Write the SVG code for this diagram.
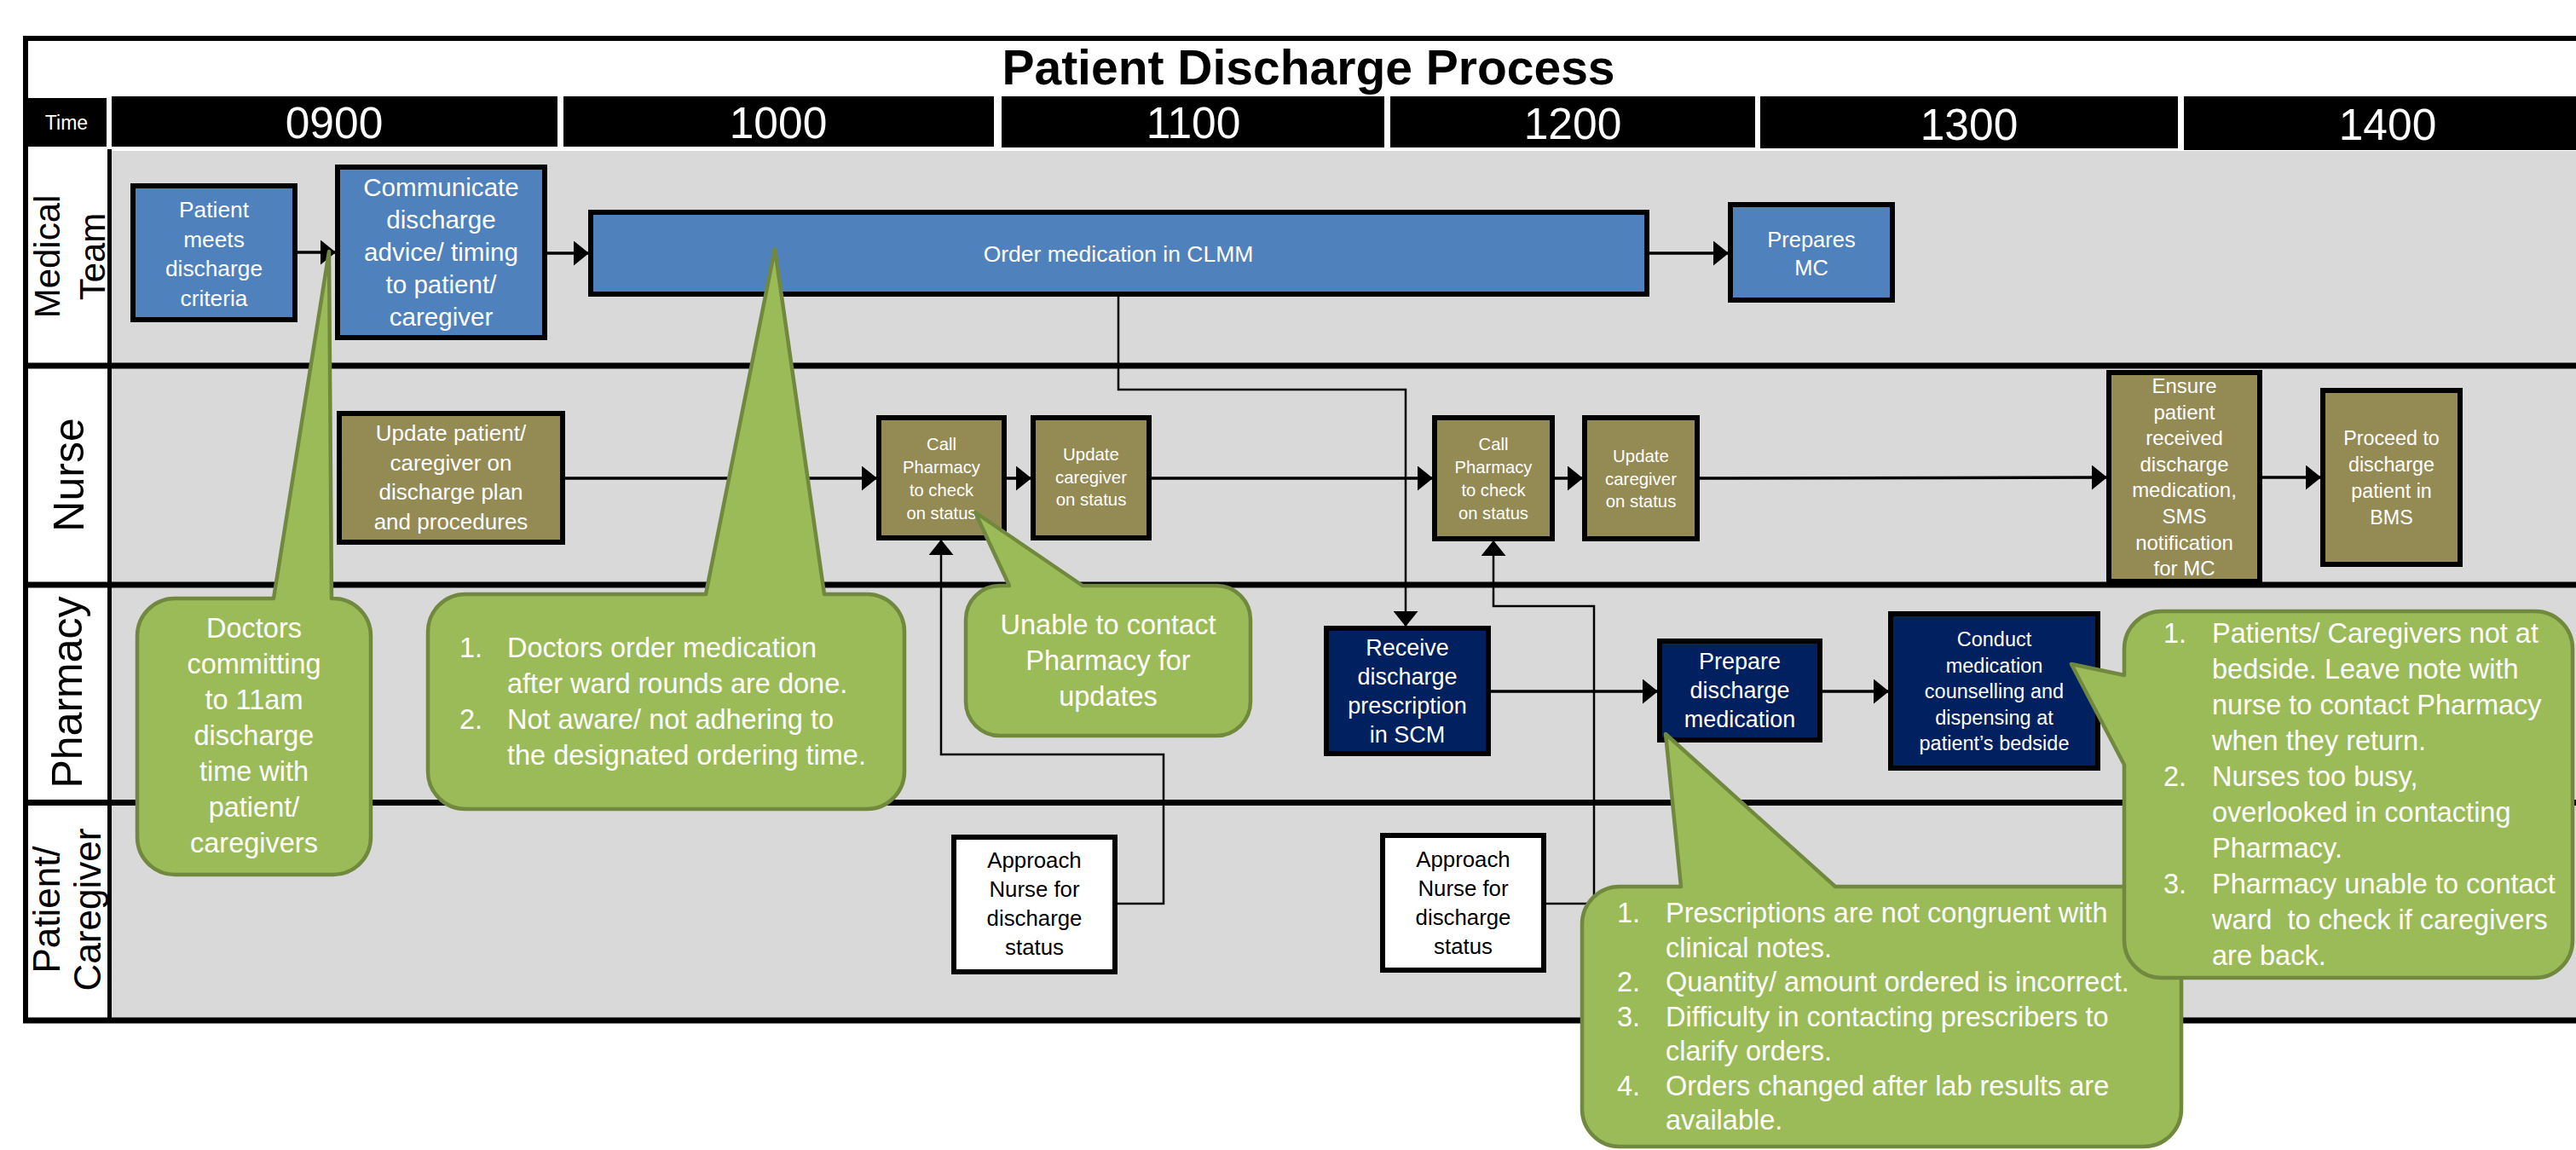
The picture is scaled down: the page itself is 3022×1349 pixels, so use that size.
<svg xmlns="http://www.w3.org/2000/svg" width="3022" height="1349" viewBox="0 0 3022 1349">
<defs>
<style>
text{font-family:"Liberation Sans",Arial,sans-serif}
.title{font-size:57px;font-weight:bold;fill:#000;text-anchor:middle}
.hour{fill:#fff;text-anchor:middle;font-size:51.5px}
.hbox{fill:#000}
.lane{fill:#d9d9d9}
.sep{stroke:#000;stroke-width:7;fill:none}
.frm{stroke:#000;stroke-width:6;fill:none}
.lbl{fill:#000;text-anchor:middle}
.box{stroke:#000;stroke-width:6}
.med{fill:#4f81bd}
.nur{fill:#948a54}
.pha{fill:#002060}
.pat{fill:#fff}
.wt{fill:#fff;text-anchor:middle}
.bt{fill:#000;text-anchor:middle}
.flow{stroke:#000;stroke-width:3.5;fill:none;marker-end:url(#arr)}
.link{stroke:#000;stroke-width:2.5;fill:none;marker-end:url(#arr)}
.call{fill:#9bbb59;stroke:#71893f;stroke-width:4.5;stroke-linejoin:round}
.ct{fill:#fff;font-size:32.5px}
.cc{fill:#fff;font-size:32.5px;text-anchor:middle}
</style>
<marker id="arr" markerUnits="userSpaceOnUse" markerWidth="18" markerHeight="29" viewBox="0 0 18 29" refX="17" refY="14.5" orient="auto">
<path d="M0,0 L18,14.5 L0,29 Z" fill="#000"/>
</marker>
</defs>

<rect x="0" y="0" width="3022" height="1349" fill="#fff"/>

<!-- table frame, time row and swimlanes -->
<g id="frame">
<text class="title" x="1535" y="99">Patient Discharge Process</text>
<rect class="hbox" x="32" y="115" width="93" height="57"/>
<text class="hour" x="78" y="152" style="font-size:23px">Time</text>
<rect class="hbox" x="131" y="113" width="523" height="59"/>
<text class="hour" x="392" y="162">0900</text>
<rect class="hbox" x="661" y="113" width="505" height="59"/>
<text class="hour" x="913" y="162">1000</text>
<rect class="hbox" x="1175" y="113" width="449" height="60"/>
<text class="hour" x="1400" y="162">1100</text>
<rect class="hbox" x="1631" y="113" width="428" height="60"/>
<text class="hour" x="1845" y="163">1200</text>
<rect class="hbox" x="2065" y="113" width="490" height="61"/>
<text class="hour" x="2310" y="164">1300</text>
<rect class="hbox" x="2562" y="113" width="478" height="63"/>
<text class="hour" x="2801" y="164">1400</text>

<rect class="lane" x="131" y="177" width="2891" height="1017"/>
<line class="frm" x1="27" y1="45" x2="3022" y2="45"/>
<line class="frm" x1="30" y1="42" x2="30" y2="1200"/>
<line x1="128.5" y1="175" x2="128.5" y2="1200" stroke="#000" stroke-width="5"/>
<line class="sep" x1="27" y1="429" x2="3022" y2="429"/>
<line class="sep" x1="27" y1="686" x2="3022" y2="686"/>
<line class="sep" x1="27" y1="941.5" x2="3022" y2="941.5"/>
<line class="sep" x1="27" y1="1197" x2="3022" y2="1197"/>

<g transform="rotate(-90)">
<text class="lbl" x="-301" y="70" font-size="42">Medical</text>
<text class="lbl" x="-301" y="123" font-size="42">Team</text>
<text class="lbl" x="-557" y="98" font-size="50">Nurse</text>
<text class="lbl" x="-812" y="96" font-size="50">Pharmacy</text>
<text class="lbl" x="-1067" y="70" font-size="44">Patient/</text>
<text class="lbl" x="-1067" y="118" font-size="44">Caregiver</text>
</g>
</g>

<!-- Medical Team lane -->
<g id="n-meets-criteria">
<rect class="box med" x="156" y="218" width="190" height="157"/>
<text class="wt" font-size="26.3"><tspan x="251" y="255">Patient</tspan><tspan x="251" y="289.5">meets</tspan><tspan x="251" y="324">discharge</tspan><tspan x="251" y="358.5">criteria</tspan></text>
</g>
<g id="n-communicate">
<rect class="box med" x="396" y="196" width="243" height="200"/>
<text class="wt" font-size="29.6"><tspan x="517.5" y="230">Communicate</tspan><tspan x="517.5" y="268">discharge</tspan><tspan x="517.5" y="306">advice/ timing</tspan><tspan x="517.5" y="344">to patient/</tspan><tspan x="517.5" y="382">caregiver</tspan></text>
</g>
<g id="n-order-clmm">
<rect class="box med" x="693" y="249" width="1239" height="96"/>
<text class="wt" font-size="26.5" x="1312" y="307">Order medication in CLMM</text>
</g>
<g id="n-prepares-mc">
<rect class="box med" x="2030" y="240" width="190" height="112"/>
<text class="wt" font-size="25.5"><tspan x="2125" y="290">Prepares</tspan><tspan x="2125" y="323">MC</tspan></text>
</g>

<!-- Nurse lane -->
<g id="n-update-plan">
<rect class="box nur" x="398" y="485" width="262" height="151"/>
<text class="wt" font-size="26"><tspan x="529" y="517">Update patient/</tspan><tspan x="529" y="551.5">caregiver on</tspan><tspan x="529" y="586">discharge plan</tspan><tspan x="529" y="620.5">and procedures</tspan></text>
</g>
<g id="n-call-pharmacy-1">
<rect class="box nur" x="1031" y="490" width="147" height="141"/>
<text class="wt" font-size="20.2"><tspan x="1104.5" y="528">Call</tspan><tspan x="1104.5" y="555">Pharmacy</tspan><tspan x="1104.5" y="582">to check</tspan><tspan x="1104.5" y="609">on status</tspan></text>
</g>
<g id="n-update-caregiver-1">
<rect class="box nur" x="1212" y="490" width="136" height="141"/>
<text class="wt" font-size="20.4"><tspan x="1280" y="540">Update</tspan><tspan x="1280" y="566.5">caregiver</tspan><tspan x="1280" y="593">on status</tspan></text>
</g>
<g id="n-call-pharmacy-2">
<rect class="box nur" x="1683" y="490" width="138" height="142"/>
<text class="wt" font-size="20.2"><tspan x="1752" y="528">Call</tspan><tspan x="1752" y="555">Pharmacy</tspan><tspan x="1752" y="582">to check</tspan><tspan x="1752" y="609">on status</tspan></text>
</g>
<g id="n-update-caregiver-2">
<rect class="box nur" x="1859" y="490" width="132" height="142"/>
<text class="wt" font-size="20.4"><tspan x="1925" y="542">Update</tspan><tspan x="1925" y="568.5">caregiver</tspan><tspan x="1925" y="595">on status</tspan></text>
</g>
<g id="n-ensure-received">
<rect class="box nur" x="2474" y="437" width="177" height="245"/>
<text class="wt" font-size="24"><tspan x="2562.5" y="461">Ensure</tspan><tspan x="2562.5" y="491.6">patient</tspan><tspan x="2562.5" y="522.2">received</tspan><tspan x="2562.5" y="552.8">discharge</tspan><tspan x="2562.5" y="583.4">medication,</tspan><tspan x="2562.5" y="614">SMS</tspan><tspan x="2562.5" y="644.6">notification</tspan><tspan x="2562.5" y="675.2">for MC</tspan></text>
</g>
<g id="n-proceed-bms">
<rect class="box nur" x="2725" y="458" width="161" height="204"/>
<text class="wt" font-size="23.3"><tspan x="2805.5" y="522">Proceed to</tspan><tspan x="2805.5" y="553">discharge</tspan><tspan x="2805.5" y="584">patient in</tspan><tspan x="2805.5" y="614.5">BMS</tspan></text>
</g>

<!-- Pharmacy lane -->
<g id="n-receive-scm">
<rect class="box pha" x="1556" y="737" width="190" height="147"/>
<text class="wt" font-size="27"><tspan x="1651" y="769">Receive</tspan><tspan x="1651" y="803">discharge</tspan><tspan x="1651" y="837">prescription</tspan><tspan x="1651" y="871">in SCM</tspan></text>
</g>
<g id="n-prepare-medication">
<rect class="box pha" x="1947" y="752" width="188" height="116"/>
<text class="wt" font-size="27"><tspan x="2041" y="785">Prepare</tspan><tspan x="2041" y="819">discharge</tspan><tspan x="2041" y="853">medication</tspan></text>
</g>
<g id="n-conduct-counselling">
<rect class="box pha" x="2218" y="720" width="243" height="181"/>
<text class="wt" font-size="23.5"><tspan x="2339.5" y="758">Conduct</tspan><tspan x="2339.5" y="788.5">medication</tspan><tspan x="2339.5" y="819">counselling and</tspan><tspan x="2339.5" y="849.5">dispensing at</tspan><tspan x="2339.5" y="880">patient’s bedside</tspan></text>
</g>

<!-- Patient/Caregiver lane -->
<g id="n-approach-nurse-1">
<rect class="box pat" x="1119" y="982" width="189" height="158"/>
<text class="bt" font-size="25.8"><tspan x="1213.5" y="1018">Approach</tspan><tspan x="1213.5" y="1052">Nurse for</tspan><tspan x="1213.5" y="1086">discharge</tspan><tspan x="1213.5" y="1120">status</tspan></text>
</g>
<g id="n-approach-nurse-2">
<rect class="box pat" x="1622" y="980" width="189" height="158"/>
<text class="bt" font-size="25.8"><tspan x="1716.5" y="1017">Approach</tspan><tspan x="1716.5" y="1051">Nurse for</tspan><tspan x="1716.5" y="1085">discharge</tspan><tspan x="1716.5" y="1119">status</tspan></text>
</g>

<!-- connectors -->
<g id="connectors">
<path class="flow" d="M349,296 H393"/>
<path class="flow" d="M642,297 H690"/>
<path class="flow" d="M1935,297 H2027"/>
<path class="flow" d="M663,561 H1028"/>
<path class="flow" d="M1181,561 H1209"/>
<path class="flow" d="M1351,561 H1680"/>
<path class="flow" d="M1824,561 H1856"/>
<path class="flow" d="M1994,561 L2471,560"/>
<path class="flow" d="M2654,560 H2722"/>
<path class="flow" d="M1749,811 H1944"/>
<path class="flow" d="M2138,811 H2215"/>
<path class="link" d="M1312,348 V457 H1649 V734"/>
<path class="link" d="M1311,1060 H1365 V885 H1104 V634"/>
<path class="link" d="M1814,1060 H1870 V711 H1752 V635"/>
</g>

<!-- issue callouts -->
<g id="c-commit-11am">
<path class="call" d="M205,702 H321 L386,295 L389,702 H391 A44,44 0 0 1 435,746 V982 A44,44 0 0 1 391,1026 H205 A44,44 0 0 1 161,982 V746 A44,44 0 0 1 205,702 Z"/>
<text class="cc"><tspan x="298" y="748">Doctors</tspan><tspan x="298" y="790">committing</tspan><tspan x="298" y="832">to 11am</tspan><tspan x="298" y="874">discharge</tspan><tspan x="298" y="916">time with</tspan><tspan x="298" y="958">patient/</tspan><tspan x="298" y="1000">caregivers</tspan></text>
</g>
<g id="c-order-timing">
<path class="call" d="M546,697 H828 L909,292 L967,697 H1017 A44,44 0 0 1 1061,741 V905 A44,44 0 0 1 1017,949 H546 A44,44 0 0 1 502,905 V741 A44,44 0 0 1 546,697 Z"/>
<text class="ct"><tspan x="539" y="771">1.</tspan><tspan x="595" y="771">Doctors order medication</tspan><tspan x="595" y="813">after ward rounds are done.</tspan><tspan x="539" y="855">2.</tspan><tspan x="595" y="855">Not aware/ not adhering to</tspan><tspan x="595" y="897">the designated ordering time.</tspan></text>
</g>
<g id="c-unable-contact">
<path class="call" d="M1173,687 H1184 L1144,601 L1270,687 H1427 A40,40 0 0 1 1467,727 V823 A40,40 0 0 1 1427,863 H1173 A40,40 0 0 1 1133,823 V727 A40,40 0 0 1 1173,687 Z"/>
<text class="cc"><tspan x="1300" y="744">Unable to contact</tspan><tspan x="1300" y="786">Pharmacy for</tspan><tspan x="1300" y="828">updates</tspan></text>
</g>
<g id="c-prescriptions">
<path class="call" d="M1900,1040 H1972 L1954,861 L2153,1040 H2515 A44,44 0 0 1 2559,1084 V1301 A44,44 0 0 1 2515,1345 H1900 A44,44 0 0 1 1856,1301 V1084 A44,44 0 0 1 1900,1040 Z"/>
<text class="ct"><tspan x="1897" y="1082">1.</tspan><tspan x="1954" y="1082">Prescriptions are not congruent with</tspan><tspan x="1954" y="1122.5">clinical notes.</tspan><tspan x="1897" y="1163">2.</tspan><tspan x="1954" y="1163">Quantity/ amount ordered is incorrect.</tspan><tspan x="1897" y="1203.5">3.</tspan><tspan x="1954" y="1203.5">Difficulty in contacting prescribers to</tspan><tspan x="1954" y="1244">clarify orders.</tspan><tspan x="1897" y="1284.5">4.</tspan><tspan x="1954" y="1284.5">Orders changed after lab results are</tspan><tspan x="1954" y="1325">available.</tspan></text>
</g>
<g id="c-bedside">
<path class="call" d="M2536,717 H2974 A44,44 0 0 1 3018,761 V1103 A44,44 0 0 1 2974,1147 H2536 A44,44 0 0 1 2492,1103 V897 L2430,779 L2492,792 V761 A44,44 0 0 1 2536,717 Z"/>
<text class="ct"><tspan x="2538" y="754">1.</tspan><tspan x="2595" y="754">Patients/ Caregivers not at</tspan><tspan x="2595" y="796">bedside. Leave note with</tspan><tspan x="2595" y="838">nurse to contact Pharmacy</tspan><tspan x="2595" y="880">when they return.</tspan><tspan x="2538" y="922">2.</tspan><tspan x="2595" y="922">Nurses too busy,</tspan><tspan x="2595" y="964">overlooked in contacting</tspan><tspan x="2595" y="1006">Pharmacy.</tspan><tspan x="2538" y="1048">3.</tspan><tspan x="2595" y="1048">Pharmacy unable to contact</tspan><tspan x="2595" y="1090" xml:space="preserve">ward  to check if caregivers</tspan><tspan x="2595" y="1132">are back.</tspan></text>
</g>
</svg>
